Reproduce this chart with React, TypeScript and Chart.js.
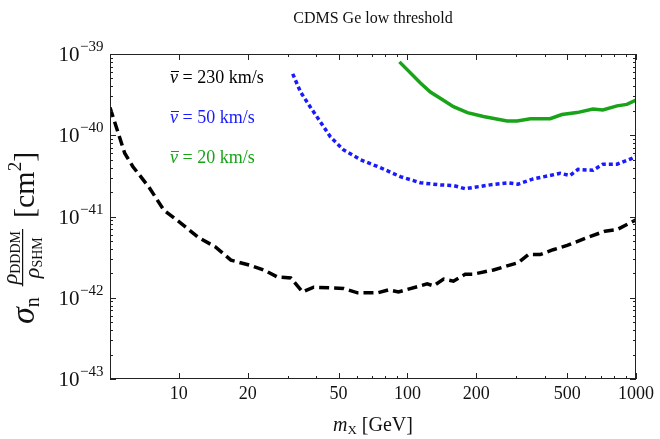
import React, { useEffect, useRef } from 'react';
import { Chart, registerables } from 'chart.js';

Chart.register(...registerables);

const chartTitle = 'CDMS Ge low threshold';

const blackMass = [5, 5.8, 6.3, 7.4, 8.6, 10.2, 12.1, 14.5, 16.9, 20.6, 23.5, 27, 30.9, 34.8, 38.9, 52.6, 60.5, 74, 82.6, 91.4, 122, 130, 144, 159, 179, 194, 238, 305, 338, 381, 434, 500, 611, 732, 826, 1000];
const blackSigma = [2.2e-40, 6.0e-41, 4.1e-41, 2.3e-41, 1.2e-41, 8.3e-42, 5.6e-42, 4.2e-42, 2.9e-42, 2.5e-42, 2.2e-42, 1.8e-42, 1.75e-42, 1.18e-42, 1.35e-42, 1.3e-42, 1.15e-42, 1.15e-42, 1.25e-42, 1.18e-42, 1.48e-42, 1.4e-42, 1.7e-42, 1.6e-42, 1.95e-42, 1.95e-42, 2.2e-42, 2.7e-42, 3.4e-42, 3.4e-42, 3.9e-42, 4.4e-42, 5.5e-42, 6.6e-42, 6.9e-42, 9.1e-42];

const blueMass = [31.5, 34.1, 37.7, 41.7, 46.1, 52.6, 62.3, 76, 93, 114, 139, 159, 179, 230, 276, 305, 355, 466, 515, 558, 648, 716, 826, 960, 1000];
const blueSigma = [5.7e-40, 3.4e-40, 2.2e-40, 1.45e-40, 9.5e-41, 6.6e-41, 5.0e-41, 4.0e-41, 3.1e-41, 2.6e-41, 2.45e-41, 2.4e-41, 2.2e-41, 2.45e-41, 2.6e-41, 2.5e-41, 2.9e-41, 3.4e-41, 3.2e-41, 3.8e-41, 3.7e-41, 4.4e-41, 4.4e-41, 5.2e-41, 5.5e-41];

const greenMass = [92.3, 114, 126, 142, 159, 183, 215, 273, 302, 345, 421, 474, 552, 648, 716, 826, 912, 1000];
const greenSigma = [8e-40, 4.4e-40, 3.4e-40, 2.75e-40, 2.25e-40, 1.9e-40, 1.7e-40, 1.5e-40, 1.5e-40, 1.6e-40, 1.6e-40, 1.8e-40, 1.9e-40, 2.1e-40, 2.05e-40, 2.3e-40, 2.4e-40, 2.7e-40];

const velocityLabels = ['230 km/s', '50 km/s', '20 km/s'];
const seriesColors = ['#000000', '#1a1aff', '#19a319'];

const xMajorTicks = [10, 20, 50, 100, 200, 500, 1000];
const xMinorTicks = [30, 40, 60, 70, 80, 90, 300, 400, 600, 700, 800, 900];
const yExponents = [-43, -42, -41, -40, -39];

const SERIF = "'Liberation Serif', 'DejaVu Serif', serif";

function pts(xs: number[], ys: number[]) {
  return xs.map((x, i) => ({ x, y: ys[i] }));
}

const decorPlugin = {
  id: 'decor',
  afterDraw(chart: any) {
    const ctx = chart.ctx as CanvasRenderingContext2D;
    const { left, right, top, bottom } = chart.chartArea;
    const xs = chart.scales.x;
    const ys = chart.scales.y;
    ctx.save();

    // frame
    ctx.strokeStyle = '#222';
    ctx.lineWidth = 1;
    ctx.strokeRect(left + 0.5, top + 0.5, right - left - 1, bottom - top - 1);

    // x ticks
    const xTick = (v: number, len: number) => {
      const px = Math.round(xs.getPixelForValue(v)) + 0.5;
      ctx.beginPath();
      ctx.moveTo(px, bottom);
      ctx.lineTo(px, bottom - len);
      ctx.moveTo(px, top);
      ctx.lineTo(px, top + len);
      ctx.stroke();
    };
    xMajorTicks.forEach((v) => xTick(v, 6));
    xMinorTicks.forEach((v) => xTick(v, 3));

    // y ticks
    const yTick = (v: number, len: number) => {
      const py = Math.round(ys.getPixelForValue(v)) + 0.5;
      ctx.beginPath();
      ctx.moveTo(left, py);
      ctx.lineTo(left + len, py);
      ctx.moveTo(right, py);
      ctx.lineTo(right - len, py);
      ctx.stroke();
    };
    yExponents.forEach((e, i) => {
      yTick(Math.pow(10, e), 6);
      if (i < yExponents.length - 1) {
        for (let k = 2; k <= 9; k++) yTick(k * Math.pow(10, e), 3);
      }
    });

    ctx.fillStyle = '#111';
    // x tick labels
    ctx.font = `18px ${SERIF}`;
    ctx.textAlign = 'center';
    ctx.textBaseline = 'alphabetic';
    xMajorTicks.forEach((v) => {
      ctx.fillText(String(v), xs.getPixelForValue(v), bottom + 20);
    });

    // y tick labels: 10^e
    yExponents.forEach((e) => {
      const py = ys.getPixelForValue(Math.pow(10, e));
      ctx.font = `21px ${SERIF}`;
      ctx.textAlign = 'left';
      const baseW = ctx.measureText('10').width;
      ctx.font = `15px ${SERIF}`;
      const expStr = '\u2212' + String(Math.abs(e));
      const expW = ctx.measureText(expStr).width;
      const endX = left - 7;
      const startX = endX - baseW - expW;
      ctx.font = `21px ${SERIF}`;
      ctx.fillText('10', startX, py + 7);
      ctx.font = `15px ${SERIF}`;
      ctx.fillText(expStr, startX + baseW + 0.5, py - 3);
    });

    // title
    ctx.font = `16px ${SERIF}`;
    ctx.textAlign = 'center';
    ctx.fillText(chartTitle, (left + right) / 2, 23);

    // x axis title: m_X [GeV]
    {
      ctx.textAlign = 'left';
      const fItal = `italic 20px ${SERIF}`;
      const fSub = `13px ${SERIF}`;
      const fReg = `20px ${SERIF}`;
      ctx.font = fItal;
      const w1 = ctx.measureText('m').width;
      ctx.font = fSub;
      const w2 = ctx.measureText('X').width;
      ctx.font = fReg;
      const w3 = ctx.measureText(' [GeV]').width;
      const total = w1 + w2 + w3;
      let x0 = (left + right) / 2 - total / 2;
      const base = 431;
      ctx.font = fItal;
      ctx.fillText('m', x0, base);
      x0 += w1;
      ctx.font = fSub;
      ctx.fillText('X', x0, base + 3);
      x0 += w2;
      ctx.font = fReg;
      ctx.fillText(' [GeV]', x0, base);
    }

    // y axis title (rotated)
    {
      ctx.save();
      ctx.translate(34, 238);
      ctx.rotate(-Math.PI / 2);
      ctx.textAlign = 'left';
      const fSig = `italic 34px ${SERIF}`;
      const fN = `20px ${SERIF}`;
      const fRho = `italic 22px ${SERIF}`;
      const fFracSub = `14px ${SERIF}`;
      const fBr = `30px ${SERIF}`;
      const fSup = `19px ${SERIF}`;
      const mw = (f: string, s: string) => { ctx.font = f; return ctx.measureText(s).width; };
      const wSig = mw(fSig, '\u03C3');
      const wN = mw(fN, 'n');
      const wRho = mw(fRho, '\u03C1');
      const wNum = wRho + mw(fFracSub, 'DDDM');
      const wDen = wRho + mw(fFracSub, 'SHM');
      const wFrac = Math.max(wNum, wDen) + 4;
      const wBr1 = mw(fBr, '[cm');
      const wSup = mw(fSup, '2');
      const wBr2 = mw(fBr, ']');
      const gap = 11;
      const total = wSig + wN + gap + wFrac + gap + wBr1 + wSup + wBr2;
      let x = -total / 2;
      ctx.font = fSig; ctx.fillText('\u03C3', x, 0); x += wSig;
      ctx.font = fN; ctx.fillText('n', x, 5); x += wN + gap;
      // fraction
      const numX = x + (wFrac - wNum) / 2;
      ctx.font = fRho; ctx.fillText('\u03C1', numX, -17);
      ctx.font = fFracSub; ctx.fillText('DDDM', numX + wRho, -14);
      ctx.fillRect(x, -12, wFrac, 1.2);
      const denX = x + (wFrac - wDen) / 2;
      ctx.font = fRho; ctx.fillText('\u03C1', denX, 5);
      ctx.font = fFracSub; ctx.fillText('SHM', denX + wRho, 8);
      x += wFrac + gap;
      ctx.font = fBr; ctx.fillText('[cm', x, 0); x += wBr1;
      ctx.font = fSup; ctx.fillText('2', x, -13); x += wSup;
      ctx.font = fBr; ctx.fillText(']', x, 0);
      ctx.restore();
    }

    // in-plot velocity labels
    const labelX = 170;
    const baselines = [83, 123, 163];
    velocityLabels.forEach((lab, i) => {
      ctx.fillStyle = seriesColors[i];
      ctx.strokeStyle = seriesColors[i];
      const fI = `italic 18px ${SERIF}`;
      const fR = `18px ${SERIF}`;
      ctx.font = fI;
      ctx.textAlign = 'left';
      const wv = ctx.measureText('v').width;
      ctx.fillText('v', labelX, baselines[i]);
      ctx.lineWidth = 1;
      ctx.beginPath();
      ctx.moveTo(labelX + 1, baselines[i] - 11.5);
      ctx.lineTo(labelX + wv + 1, baselines[i] - 11.5);
      ctx.stroke();
      ctx.font = fR;
      ctx.fillText(' = ' + lab, labelX + wv, baselines[i]);
    });

    ctx.restore();
  },
};

export default function App() {
  const canvasRef = useRef<HTMLCanvasElement | null>(null);

  useEffect(() => {
    const canvas = canvasRef.current;
    if (!canvas) return;
    const chart = new Chart(canvas, {
      type: 'line',
      data: {
        datasets: [
          {
            label: 'v = 230 km/s',
            data: pts(blackMass, blackSigma),
            borderColor: seriesColors[0],
            borderWidth: 3.5,
            borderDash: [10, 5],
            pointRadius: 0,
            fill: false,
            tension: 0,
          },
          {
            label: 'v = 50 km/s',
            data: pts(blueMass, blueSigma),
            borderColor: seriesColors[1],
            borderWidth: 3.5,
            borderDash: [4, 3],
            pointRadius: 0,
            fill: false,
            tension: 0,
          },
          {
            label: 'v = 20 km/s',
            data: pts(greenMass, greenSigma),
            borderColor: seriesColors[2],
            borderWidth: 3.5,
            pointRadius: 0,
            fill: false,
            tension: 0,
          },
        ],
      },
      options: {
        animation: false,
        responsive: false,
        maintainAspectRatio: false,
        layout: { padding: { left: 110, right: 24, top: 54, bottom: 60 } },
        plugins: {
          legend: { display: false },
          title: { display: false },
          tooltip: { enabled: false },
        },
        scales: {
          x: { type: 'logarithmic', min: 5, max: 1000, display: false },
          y: { type: 'logarithmic', min: 1e-43, max: 1e-39, display: false },
        },
      },
      plugins: [decorPlugin],
    });
    return () => chart.destroy();
  }, []);

  return (
    <div style={{ position: 'fixed', left: 0, top: 0, width: 660, height: 439, background: '#fff' }}>
      <canvas ref={canvasRef} width={660} height={439} style={{ width: 660, height: 439, display: 'block' }} />
    </div>
  );
}
